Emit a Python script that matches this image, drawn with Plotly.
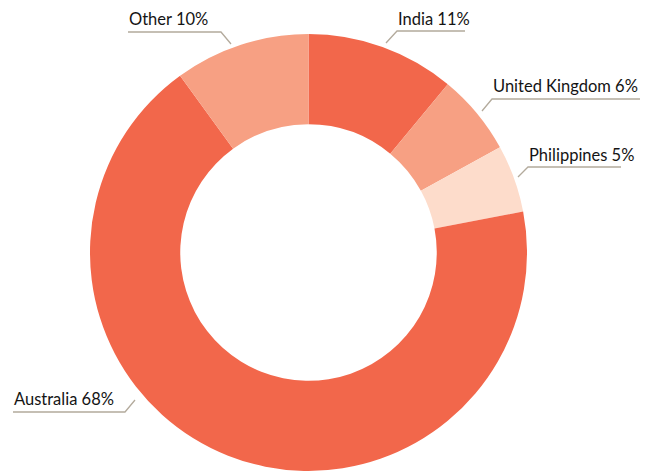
import plotly.graph_objects as go

W, H = 648, 473
# the page places the figure 8px in from the top-left corner (default body margin)
OFF = 8

countries = ["India", "United Kingdom", "Philippines", "Australia", "Other"]
shares = [11, 6, 5, 68, 10]
colors = ["#F2674B", "#F7A083", "#FDDCCB", "#F2674B", "#F7A083"]

# label anchor (left x, centre y) and leader (start, elbow, end) in page pixels
label_pos = {
    "India": (396, 19),
    "United Kingdom": (491, 86),
    "Philippines": (527, 155),
    "Australia": (12, 399),
    "Other": (127, 19),
}
leaders = {
    "India": [(386, 43), (397, 31), (465, 31)],
    "United Kingdom": [(482, 111), (492, 99), (646, 99)],
    "Philippines": [(518, 177), (528, 167), (621, 167)],
    "Australia": [(135, 400), (125, 412), (13, 412)],
    "Other": [(231, 44), (221, 32), (128, 32)],
}

def px(x):
    return (x - OFF) / W

def py(y):
    return 1 - (y - OFF) / H

fig = go.Figure(go.Pie(
    labels=countries,
    values=shares,
    sort=False,
    direction="clockwise",
    rotation=0,
    hole=0.587,
    marker=dict(colors=colors, line=dict(width=0)),
    textinfo="none",
    hoverinfo="label+percent",
    domain=dict(x=[px(90), px(527)], y=[py(471), py(34)]),
    showlegend=False,
))

shapes = []
for c in countries:
    pts = leaders[c]
    path = "M " + " L ".join(f"{px(x)},{py(y)}" for x, y in pts)
    shapes.append(dict(type="path", xref="paper", yref="paper", path=path,
                       line=dict(color="#B3AA9C", width=1.3)))

annotations = []
for c, v in zip(countries, shares):
    x, y = label_pos[c]
    annotations.append(dict(
        x=px(x), y=py(y), xref="paper", yref="paper",
        xanchor="left", yanchor="middle", showarrow=False,
        text=f"{c} {v}%",
        font=dict(family="Lato, 'Open Sans', sans-serif", size=16.5, color="#141414"),
    ))

fig.update_layout(
    width=W, height=H,
    margin=dict(l=0, r=0, t=0, b=0),
    paper_bgcolor="white", plot_bgcolor="white",
    shapes=shapes, annotations=annotations,
)

fig.write_html("out.html")
